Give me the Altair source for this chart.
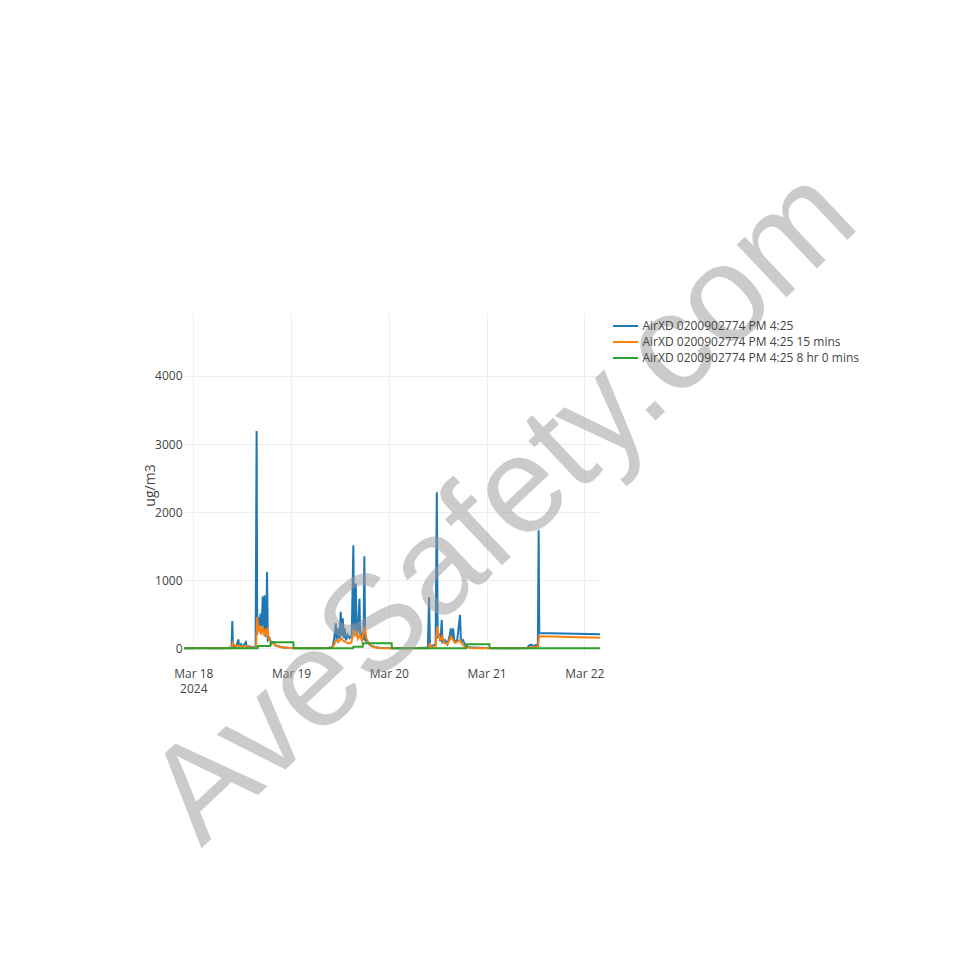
import altair as alt
import pandas as pd

series_names = [
    "AirXD 0200902774 PM 4:25",
    "AirXD 0200902774 PM 4:25 15 mins",
    "AirXD 0200902774 PM 4:25 8 hr 0 mins",
]
series_colors = ["#1f77b4", "#ff7f0e", "#2ca02c"]
base_time = "2024-03-18 00:00"

raw_hours = [-2.28, 2, 6, 8.5, 9.4, 9.58, 9.75, 10.5, 11.05, 11.3, 11.7, 12.0, 12.9, 13.2, 13.8, 14.2,
             15.3, 15.55, 15.7, 15.95, 16.2, 16.5, 16.8, 17.05, 17.3, 17.5, 17.7, 17.95, 18.1, 18.3,
             18.7, 19.2, 19.6, 20.2, 21, 22, 24, 28, 33, 34.2, 34.6, 35.0, 35.2, 35.6, 35.9, 36.2,
             36.45, 36.7, 36.95, 37.2, 37.5, 37.9, 38.4, 38.9, 39.3, 39.5, 39.9, 40.1, 40.4, 40.8,
             41.0, 41.5, 41.8, 42.0, 42.2, 42.7, 43.3, 44.5, 46, 50, 55, 57.6, 57.9, 58.1, 58.8,
             59.5, 59.8, 60.0, 60.4, 60.7, 61.0, 61.2, 61.8, 62.4, 63.0, 63.2, 63.5, 63.8, 64.1,
             64.8, 65.5, 65.7, 66.2, 66.8, 68, 72, 78, 82.0, 82.4, 83.0, 83.6, 84.2, 84.6, 84.8,
             84.95, 99.86]
raw_values = [0, 3, 2, 5, 15, 400, 20, 10, 130, 25, 60, 15, 90, 15, 30, 10,
              20, 3190, 200, 460, 280, 510, 320, 760, 250, 780, 170, 200, 1120, 120,
              150, 70, 90, 40, 25, 10, 3, 2, 5, 20, 150, 366, 120, 293, 130, 537,
              180, 440, 150, 293, 120, 200, 150, 180, 1512, 200, 950, 180, 250, 732,
              150, 220, 120, 1351, 120, 100, 50, 20, 5, 2, 3, 10, 750, 30, 40,
              60, 2290, 150, 220, 100, 417, 90, 120, 60, 200, 294, 150, 294, 100,
              120, 490, 100, 120, 40, 10, 3, 2, 5, 40, 55, 30, 50, 40, 1735,
              225, 205]

avg15_hours = [-2.28, 9.4, 9.7, 10.2, 11.2, 12.0, 13.0, 14.0, 15.4, 15.7, 16.0, 16.3, 16.6, 17.0,
               17.3, 17.6, 17.9, 18.2, 18.5, 19.0, 19.6, 20.3, 21.5, 23, 24.5, 33.5, 34.5, 35.1,
               35.6, 36.3, 36.8, 37.3, 38, 38.8, 39.4, 39.7, 40.0, 40.4, 40.9, 41.4, 42.1, 42.5,
               43.2, 44, 45.5, 48, 57.7, 58.0, 58.4, 59.5, 59.9, 60.2, 60.6, 61.1, 61.6, 62.4,
               63.3, 63.8, 64.3, 65.5, 66.0, 66.8, 68, 70, 82.3, 82.8, 84.0, 84.7, 84.9, 99.86]
avg15_values = [0, 0, 80, 30, 40, 20, 35, 8, 5, 460, 250, 300, 200, 330,
                220, 260, 180, 300, 150, 100, 80, 40, 20, 8, 2, 2, 40, 120,
                90, 150, 110, 100, 70, 80, 270, 200, 260, 140, 200, 110, 320, 150,
                60, 20, 5, 0, 0, 60, 20, 30, 320, 200, 120, 170, 80, 60,
                170, 120, 80, 120, 60, 20, 5, 0, 0, 20, 20, 25, 175, 155]

avg8h_hours = [-2.28, 15.8, 15.9, 18.9, 19.0, 24.55, 24.65, 39.2, 39.3, 41.6, 41.7, 48.7, 48.8,
               67.0, 67.1, 72.7, 72.8, 99.86]
avg8h_values = [0, 0, 35, 35, 90, 90, 0, 0, 24, 24, 73, 73, 0,
                0, 60, 60, 0, 0]

x_tick_dates = [(2024, 3, 18), (2024, 3, 19), (2024, 3, 20), (2024, 3, 21), (2024, 3, 22)]
y_ticks = [0, 1000, 2000, 3000, 4000]
y_domain = [-128, 4924]
y_title = "ug/m3"
watermark_text = ["AveSafety.com"]


def frame(hours, values, name):
    t = pd.Timestamp(base_time) + pd.to_timedelta(pd.Series(hours, dtype=float), unit="h")
    return pd.DataFrame({"time": t, "value": values, "series": name})


frames = [
    frame(raw_hours, raw_values, series_names[0]),
    frame(avg15_hours, avg15_values, series_names[1]),
    frame(avg8h_hours, avg8h_values, series_names[2]),
]


def to_dt(ts):
    return alt.DateTime(year=ts.year, month=ts.month, date=ts.day,
                        hours=ts.hour, minutes=ts.minute, seconds=ts.second)


t_min = min(f["time"].min() for f in frames)
t_max = max(f["time"].max() for f in frames)

FONT = "Open Sans"
GREY = "#444444"

x_enc = alt.X(
    "time:T",
    scale=alt.Scale(domain=[to_dt(t_min), to_dt(t_max)], nice=False),
    axis=alt.Axis(
        values=[alt.DateTime(year=y, month=m, date=d) for (y, m, d) in x_tick_dates],
        labelExpr="timeFormat(datum.value, '%d') == '18' ? [timeFormat(datum.value, '%b %d'), timeFormat(datum.value, '%Y')] : timeFormat(datum.value, '%b %d')",
        title=None, grid=True, gridColor="#eeeeee", domain=False, ticks=False, tickSize=0,
        labelPadding=11, labelFont=FONT, labelFontSize=12, labelColor=GREY,
        labelLineHeight=15, labelFlush=False, labelOverlap=False,
    ),
)
y_enc = alt.Y(
    "value:Q",
    scale=alt.Scale(domain=y_domain, nice=False, zero=False),
    axis=alt.Axis(
        values=y_ticks, format="d", title=y_title, titleX=-34, titleY=172, titleAngle=270,
        titleAlign="center", titleBaseline="middle", titleFont=FONT, titleFontSize=14,
        titleFontWeight="normal", titleColor=GREY,
        grid=True, gridColor="#eeeeee", domain=False, ticks=False, tickSize=0,
        labelPadding=2, labelFont=FONT, labelFontSize=12, labelColor=GREY,
    ),
)
color_enc = alt.Color(
    "series:N",
    scale=alt.Scale(domain=series_names, range=series_colors),
    legend=alt.Legend(
        title=None, orient="none", legendX=435.5, legendY=7, padding=0, offset=0,
        symbolType="M-2.5,0H2.5", symbolSize=100, symbolStrokeWidth=2,
        labelFont=FONT, labelFontSize=12, labelColor=GREY, labelOffset=11,
        rowPadding=4, labelLimit=400,
    ),
)

lines = [
    alt.Chart(f).mark_line(strokeWidth=2, interpolate="linear").encode(
        x=x_enc, y=y_enc, color=color_enc
    )
    for f in frames
]

watermark = alt.Chart(pd.DataFrame({"t": watermark_text})).mark_text(
    angle=316.7, fontSize=137, font="Liberation Sans", color="#999999", opacity=0.5,
    align="center", baseline="alphabetic",
).encode(text="t:N", x=alt.value(348), y=alt.value(224))

chart = alt.layer(*lines, watermark).properties(
    width=416, height=344,
    background="white",
    autosize=alt.AutoSizeParams(type="none"),
    padding={"left": 176, "top": 305, "right": 372, "bottom": 315},
).configure_view(stroke=None)

chart.save("out.html", embed_options={"renderer": "svg", "actions": False})
